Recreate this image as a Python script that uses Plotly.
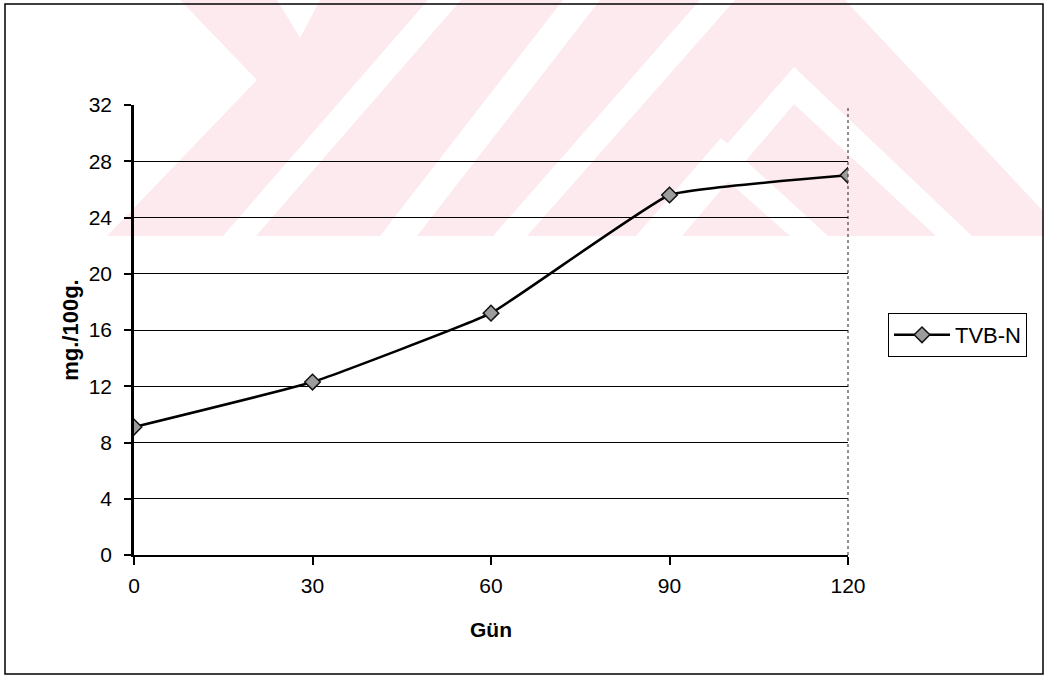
import plotly.graph_objects as go

# Storage day and TVB-N content (mg/100 g)
days = [0, 30, 60, 90, 120]
tvbn = [9.1, 12.3, 17.2, 25.6, 27.0]
y_ticks = [0, 4, 8, 12, 16, 20, 24, 28, 32]
series_name = "TVB-N"

W, H = 1044, 683
# plot area in pixels
PL, PR, PT, PB = 134, 848, 105, 555


def to_paper(x, y):
    return (x - PL) / (PR - PL), (PB - y) / (PB - PT)


def poly_path(points):
    pts = [to_paper(x, y) for x, y in points]
    return "M" + " L".join(f"{a:.5f},{b:.5f}" for a, b in pts) + " Z"


# faint background emblem (pink band with white stripes), in pixel geometry
emblem_fill = [(180, 0), (845, 0), (1044, 212), (1044, 236), (107, 236), (257, 80)]
emblem_gaps = [
    [(277, 0), (320, 0), (300, 38)],
    [(428, 0), (461, 0), (256, 236), (223, 236)],
    [(563, 0), (600, 0), (417, 236), (380, 236)],
    [(700, 0), (735, 0), (527, 236), (493, 236)],
    [(794, 67), (972, 236), (936, 236), (794, 104), (682, 236), (647, 236)],
    [(721, 138), (828, 236), (790, 236), (721, 175), (671, 236), (636, 236)],
]

shapes = [dict(type="path", path=poly_path(emblem_fill), xref="paper", yref="paper",
               fillcolor="#fdeaee", line=dict(width=0), layer="below")]
for g in emblem_gaps:
    shapes.append(dict(type="path", path=poly_path(g), xref="paper", yref="paper",
                       fillcolor="white", line=dict(width=0), layer="below"))

# outer chart frame
x0, y0 = to_paper(5, 674)
x1, y1 = to_paper(1043, 4)
shapes.append(dict(type="rect", xref="paper", yref="paper", x0=x0, y0=y0, x1=x1, y1=y1,
                   line=dict(color="black", width=1.5), layer="above"))
# dotted right edge of the plot area
shapes.append(dict(type="line", xref="paper", yref="paper", x0=1, x1=1, y0=0, y1=1,
                   line=dict(color="#222", width=1, dash="dot"), layer="above"))

fig = go.Figure()
fig.add_trace(go.Scatter(
    x=days, y=tvbn, name=series_name, mode="lines+markers",
    line=dict(color="black", width=2.5, shape="spline", smoothing=0.3),
    marker=dict(symbol="diamond", size=12, color="#9c9c9c",
                line=dict(color="#111", width=1.5)),
))

font_family = "Liberation Sans, Arial, sans-serif"

fig.update_layout(
    template="none",
    width=W, height=H,
    margin=dict(l=PL, r=W - PR, t=PT, b=H - PB),
    paper_bgcolor="white", plot_bgcolor="rgba(0,0,0,0)",
    font=dict(family=font_family, size=21, color="black"),
    shapes=shapes,
    showlegend=True,
    legend=dict(
        x=(888 - PL) / (PR - PL), y=(PB - 313) / (PB - PT),
        xanchor="left", yanchor="top",
        bordercolor="black", borderwidth=1, bgcolor="white",
        font=dict(size=22, family=font_family),
        itemwidth=56, tracegroupgap=0,
    ),
    xaxis=dict(
        range=[0, 120], tickvals=days, ticktext=[str(d) for d in days],
        showgrid=False, zeroline=False,
        showline=True, linecolor="black", linewidth=2,
        ticks="outside", ticklen=8, tickwidth=2, tickcolor="black",
        ticklabelstandoff=3, automargin=False,
        title=dict(text="<b>Gün</b>", font=dict(size=21), standoff=26),
    ),
    yaxis=dict(
        range=[0, 32], tickvals=y_ticks,
        showgrid=True, gridcolor="black", gridwidth=1.2,
        zeroline=False,
        showline=True, linecolor="black", linewidth=2.5,
        ticks="outside", ticklen=7, tickwidth=1.5, tickcolor="black",
        ticklabelstandoff=8, automargin=False,
        title=dict(text="<b>mg./100g.</b>", font=dict(size=22), standoff=4),
    ),
)

fig.write_html("out.html")
